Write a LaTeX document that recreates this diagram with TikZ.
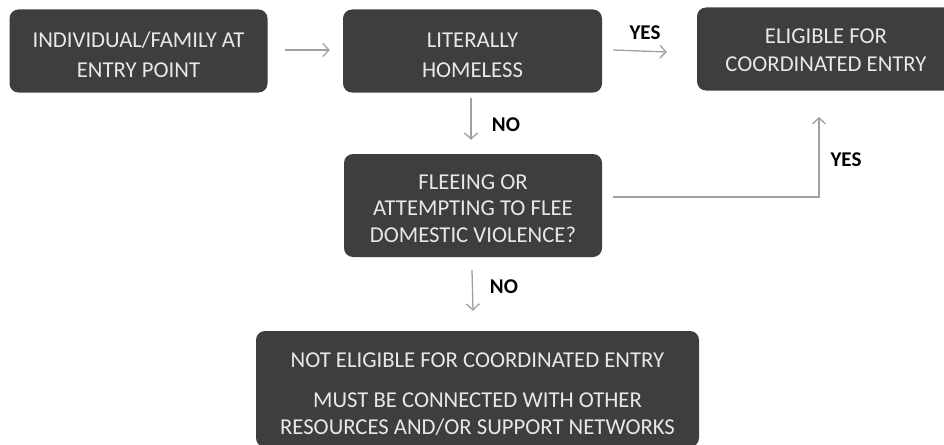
\documentclass[tikz,border=0pt]{standalone}
\usepackage{fontspec}
\setmainfont{Carlito}
\usetikzlibrary{arrows.meta}
\definecolor{boxfill}{HTML}{3E3E3E}
\definecolor{boxtext}{HTML}{E8E8E8}
\definecolor{arrgray}{HTML}{A0A0A0}
\tikzset{
  stepbox/.style={draw=none, fill=boxfill, rounded corners=9pt, inner sep=0pt},
  boxtxt/.style={text=boxtext, align=center, inner sep=0pt, font=\fontsize{22.7}{30}\selectfont},
  arr/.style={draw=arrgray, line width=1.3pt, -{Straight Barb[length=6pt,width=13pt]}},
  lbl/.style={font=\fontsize{21}{24}\selectfont\bfseries, text=black, inner sep=0pt}
}
\begin{document}
\begin{tikzpicture}[x=1pt,y=-1pt]
\useasboundingbox (0,0) rectangle (944,444);
\begin{scope}
\clip (0,0) rectangle (944,444);
\node[stepbox, minimum width=258pt, minimum height=83pt] (b1) at (138.5,51) {};
\node[stepbox, minimum width=259pt, minimum height=83pt] (b2) at (472.5,51) {};
\node[stepbox, minimum width=258pt, minimum height=83pt] (b3) at (826,49) {};
\node[stepbox, minimum width=258pt, minimum height=103pt] (b4) at (473,205.5) {};
\node[stepbox, minimum width=443pt, minimum height=116pt] (b5) at (477.5,389) {};
\end{scope}
\node[boxtxt] (t1) at ([yshift=-4pt]b1.center) {INDIVIDUAL/FAMILY AT\\ENTRY POINT};
\node[boxtxt] (t2) at ([yshift=-4pt]b2.center) {LITERALLY\\HOMELESS};
\node[boxtxt, font=\fontsize{22.7}{28}\selectfont] (t3) at ([yshift=-1pt]b3.center) {ELIGIBLE FOR\\COORDINATED ENTRY};
\node[boxtxt, font=\fontsize{22.7}{26.5}\selectfont] (t4) at ([yshift=-3pt]b4.center) {FLEEING OR\\ATTEMPTING TO FLEE\\DOMESTIC VIOLENCE?};
\node[boxtxt, font=\fontsize{22.7}{27}\selectfont] (t5) at ([yshift=-5pt]b5.center) {NOT ELIGIBLE FOR COORDINATED ENTRY\\[13pt]MUST BE CONNECTED WITH OTHER\\RESOURCES AND/OR SUPPORT NETWORKS};
\coordinate (yesend) at (819,117);
\draw[arr] ([xshift=17pt,yshift=1pt]b1.east) -- ([xshift=-13pt,yshift=1pt]b2.west);
\draw[arr] ([xshift=11pt,yshift=1pt]b2.east) -- ([xshift=-30pt,yshift=-1pt]b3.west |- b2.east);
\draw[arr] ([xshift=-1.5pt,yshift=-5pt]b2.south) -- ([xshift=-1.5pt,yshift=14pt]b2.south |- b4.north);
\draw[arr] ([xshift=11pt,yshift=8.5pt]b4.east) -| (yesend);
\draw[arr] ([xshift=-1pt,yshift=-13pt]b4.south) -- ([yshift=20pt]b4.south |- b5.north);
\node[lbl] (yes1) at (645,33) {YES};
\node[lbl] (no1) at (506,125) {NO};
\node[lbl] (yes2) at (846,160) {YES};
\node[lbl] (no2) at (504,287) {NO};
\end{tikzpicture}
\end{document}
